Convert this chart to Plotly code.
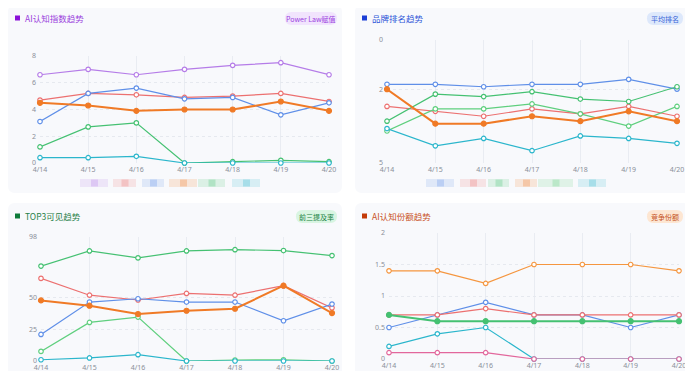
import plotly.graph_objects as go

# Page body has an 8px default margin, so the figure is drawn 8px in from the corner.
OFF = 8
W, H = 693 - OFF, 371 - OFF

dates = ["4/14", "4/15", "4/16", "4/17", "4/18", "4/19", "4/20"]

# Panel 1: AI认知指数趋势
p1_purple = [6.6, 7.0, 6.6, 7.0, 7.3, 7.5, 6.6]
p1_red = [4.7, 5.2, 5.1, 4.9, 5.0, 5.2, 4.6]
p1_blue = [3.1, 5.2, 5.6, 4.8, 4.9, 3.6, 4.5]
p1_orange = [4.5, 4.3, 3.9, 4.0, 4.0, 4.6, 3.9]
p1_green = [1.2, 2.7, 3.0, 0.0, 0.1, 0.2, 0.1]
p1_cyan = [0.4, 0.4, 0.5, 0.0, 0.0, 0.0, 0.0]
p1_ticks = [0, 2, 4, 6, 8]

# Panel 2: 品牌排名趋势 (reversed)
p2_blue = [1.8, 1.8, 1.9, 1.8, 1.8, 1.6, 2.0]
p2_red = [2.7, 2.9, 3.1, 2.8, 3.0, 2.7, 3.1]
p2_green = [3.3, 2.2, 2.3, 2.1, 2.4, 2.5, 1.9]
p2_orange = [2.0, 3.4, 3.4, 3.1, 3.3, 2.9, 3.3]
p2_green2 = [3.7, 2.8, 2.8, 2.6, 3.0, 3.5, 2.7]
p2_cyan = [3.6, 4.3, 4.0, 4.5, 3.9, 4.0, 4.2]
p2_ticks = [0, 2, 5]

# Panel 3: TOP3可见趋势
p3_green = [75.0, 87.0, 81.5, 87.0, 88.0, 87.3, 83.3]
p3_red = [65.3, 52.0, 48.2, 53.4, 52.0, 59.5, 42.0]
p3_blue = [21.0, 46.6, 49.2, 46.6, 46.6, 31.8, 45.0]
p3_orange = [47.9, 43.7, 37.1, 39.7, 41.3, 59.5, 37.9]
p3_green2 = [7.6, 30.5, 34.7, 0.0, 0.8, 1.0, 0.0]
p3_cyan = [1.0, 2.4, 5.0, 0.0, 0.0, 0.0, 0.0]
p3_ticks = [0, 25, 50, 98]

# Panel 4: AI认知份额趋势
p4_orange = [1.4, 1.4, 1.2, 1.5, 1.5, 1.5, 1.4]
p4_blue = [0.5, 0.7, 0.9, 0.7, 0.7, 0.5, 0.7]
p4_red = [0.7, 0.7, 0.8, 0.7, 0.7, 0.7, 0.7]
p4_green = [0.7, 0.6, 0.6, 0.6, 0.6, 0.6, 0.6]
p4_cyan = [0.2, 0.4, 0.5, 0.0, 0.0, 0.0, 0.0]
p4_pink = [0.1, 0.1, 0.1, 0.0, 0.0, 0.0, 0.0]
p4_ticks = [0, 0.5, 1, 1.5, 2]

C_PURPLE = "#b57ce8"
C_RED = "#ec7070"
C_BLUE = "#5f8fe8"
C_ORANGE = "#f07a26"
C_GREEN = "#45c172"
C_GREEN2 = "#5fcf7e"
C_CYAN = "#2bb6cc"
C_ORANGE_T = "#f5963f"
C_PINK = "#e2679c"


def fx(x):
    return (x - OFF) / W


def fy(y):
    return 1 - (y - OFF) / H


def rrect(x0, y0, x1, y1, r):
    pts = [
        ("M", [(x0 + r, y0)]),
        ("L", [(x1 - r, y0)]),
        ("Q", [(x1, y0), (x1, y0 + r)]),
        ("L", [(x1, y1 - r)]),
        ("Q", [(x1, y1), (x1 - r, y1)]),
        ("L", [(x0 + r, y1)]),
        ("Q", [(x0, y1), (x0, y1 - r)]),
        ("L", [(x0, y0 + r)]),
        ("Q", [(x0, y0), (x0 + r, y0)]),
    ]
    s = ""
    for cmd, ps in pts:
        s += cmd + " " + " ".join(f"{fx(a):.5f},{fy(b):.5f}" for a, b in ps) + " "
    return s + "Z"


fig = go.Figure()


def add_line(vals, color, ax, thick=False):
    xa = "x" if ax == 1 else f"x{ax}"
    ya = "y" if ax == 1 else f"y{ax}"
    fig.add_trace(go.Scatter(
        x=dates, y=vals, xaxis=xa, yaxis=ya, mode="lines+markers",
        line=dict(color=color, width=2.0 if thick else 1.2),
        marker=dict(size=5 if thick else 4.5,
                    color=color if thick else "white",
                    line=dict(color=color, width=1.2)),
        showlegend=False, hoverinfo="skip", cliponaxis=False,
    ))


for v, c in [(p1_purple, C_PURPLE), (p1_red, C_RED), (p1_blue, C_BLUE),
             (p1_green, C_GREEN), (p1_cyan, C_CYAN)]:
    add_line(v, c, 1)
add_line(p1_orange, C_ORANGE, 1, True)

for v, c in [(p2_blue, C_BLUE), (p2_red, C_RED), (p2_green, C_GREEN),
             (p2_green2, C_GREEN2), (p2_cyan, C_CYAN)]:
    add_line(v, c, 2)
add_line(p2_orange, C_ORANGE, 2, True)

for v, c in [(p3_green, C_GREEN), (p3_red, C_RED), (p3_blue, C_BLUE),
             (p3_green2, C_GREEN2), (p3_cyan, C_CYAN)]:
    add_line(v, c, 3)
add_line(p3_orange, C_ORANGE, 3, True)

for v, c in [(p4_orange, C_ORANGE_T), (p4_blue, C_BLUE), (p4_red, C_RED),
             (p4_cyan, C_CYAN), (p4_pink, C_PINK)]:
    add_line(v, c, 4)
add_line(p4_green, C_GREEN, 4, True)

tickfont = dict(family="Noto Sans, Roboto, sans-serif", size=7, color="#8a8f99")


def xax(x0, x1, anchor):
    return dict(domain=[fx(x0), fx(x1)], anchor=anchor, type="category",
                range=[0, 6], showgrid=True, gridcolor="#e9ecf2", gridwidth=1,
                zeroline=False, showline=False, ticks="", tickfont=tickfont,
                ticklabelstandoff=1, fixedrange=True, automargin=False)


def yax(y0, y1, anchor, rng, tickvals):
    return dict(domain=[fy(y1), fy(y0)], anchor=anchor, range=rng,
                tickvals=tickvals, ticktext=[str(t) for t in tickvals],
                showgrid=True, gridcolor="#e6e9ef", griddash="dot", gridwidth=1,
                zeroline=False, showline=False, ticks="", tickfont=tickfont,
                ticklabelstandoff=3, fixedrange=True, automargin=False)


shapes = []
annotations = []

cards = [(8, 5, 342, 193), (355, 5, 690, 193), (8, 203, 342, 380), (355, 203, 690, 380)]
for (a, b, c, d) in cards:
    shapes.append(dict(type="path", path=rrect(a, b, c, d, 7), xref="paper", yref="paper",
                       fillcolor="#f8f9fc", line=dict(width=0), layer="below"))

titles = [
    (8, 18, "AI认知指数趋势", "#8a11d8", "#9a3fdc"),
    (355, 18, "品牌排名趋势", "#1c3fd6", "#2f56d8"),
    (8, 216, "TOP3可见趋势", "#0e7a3a", "#1f8048"),
    (355, 216, "AI认知份额趋势", "#c43b0a", "#c8501c"),
]
for (cx, cy, t, sq, tc) in titles:
    shapes.append(dict(type="rect", xref="paper", yref="paper",
                       x0=fx(cx + 7), x1=fx(cx + 12), y0=fy(cy + 2.5), y1=fy(cy - 2.5),
                       fillcolor=sq, line=dict(width=0)))
    annotations.append(dict(text=t, x=fx(cx + 15), y=fy(cy), xref="paper", yref="paper",
                            xanchor="left", yanchor="middle", showarrow=False,
                            font=dict(family="Noto Sans CJK SC, Noto Sans, sans-serif",
                                      size=8.5, color=tc)))

badges = [
    (285, 12, 337, 25, "Power Law赋值", "#f1e4fd", "#9b3fe0"),
    (647, 12, 683, 25, "平均排名", "#dde8fb", "#3563d8"),
    (296, 210, 337, 223, "前三提及率", "#d9f5e2", "#17803f"),
    (647, 210, 683, 223, "竞争份额", "#fde6d2", "#c4501a"),
]
for (a, b, c, d, t, bg, tc) in badges:
    shapes.append(dict(type="path", path=rrect(a, b, c, d, 6.5), xref="paper", yref="paper",
                       fillcolor=bg, line=dict(width=0)))
    annotations.append(dict(text=t, x=fx((a + c) / 2), y=fy((b + d) / 2), xref="paper",
                            yref="paper", xanchor="center", yanchor="middle", showarrow=False,
                            font=dict(family="Noto Sans CJK SC, Noto Sans, sans-serif",
                                      size=7, color=tc)))

# blurred legend swatches (brand names obscured in the reference)
leg1 = [(80, 108, C_PURPLE), (113, 136, C_RED), (142, 164, C_BLUE),
        (169, 197, C_ORANGE), (198, 225, C_GREEN), (232, 260, C_CYAN)]
leg2 = [(426, 454, C_BLUE), (460, 486, C_RED), (488, 509, C_GREEN),
        (515, 537, C_ORANGE), (538, 573, C_GREEN2), (578, 606, C_CYAN)]
for group in (leg1, leg2):
    for (a, c, col) in group:
        shapes.append(dict(type="rect", xref="paper", yref="paper",
                           x0=fx(a), x1=fx(c), y0=fy(187), y1=fy(179),
                           fillcolor=col, opacity=0.16, line=dict(width=0)))
        m = (a + c) / 2
        shapes.append(dict(type="rect", xref="paper", yref="paper",
                           x0=fx(m - 3), x1=fx(m + 4), y0=fy(186.5), y1=fy(179.5),
                           fillcolor=col, opacity=0.28, line=dict(width=0)))

fig.update_layout(
    width=W, height=H,
    margin=dict(l=0, r=0, t=0, b=0, autoexpand=False),
    paper_bgcolor="white", plot_bgcolor="rgba(0,0,0,0)",
    xaxis=xax(40, 329, "y"),
    yaxis=yax(56, 163, "x", [0, 8], p1_ticks),
    xaxis2=xax(387, 677, "y2"),
    yaxis2=yax(40, 163, "x2", [5, 0], p2_ticks),
    xaxis3=xax(41, 332, "y3"),
    yaxis3=yax(237, 361, "x3", [0, 98], p3_ticks),
    xaxis4=xax(389, 679, "y4"),
    yaxis4=yax(233, 359, "x4", [0, 2], p4_ticks),
    shapes=shapes,
    annotations=annotations,
    font=dict(family="Noto Sans, Roboto, sans-serif"),
)

fig.write_html("out.html", config={"displayModeBar": False})
